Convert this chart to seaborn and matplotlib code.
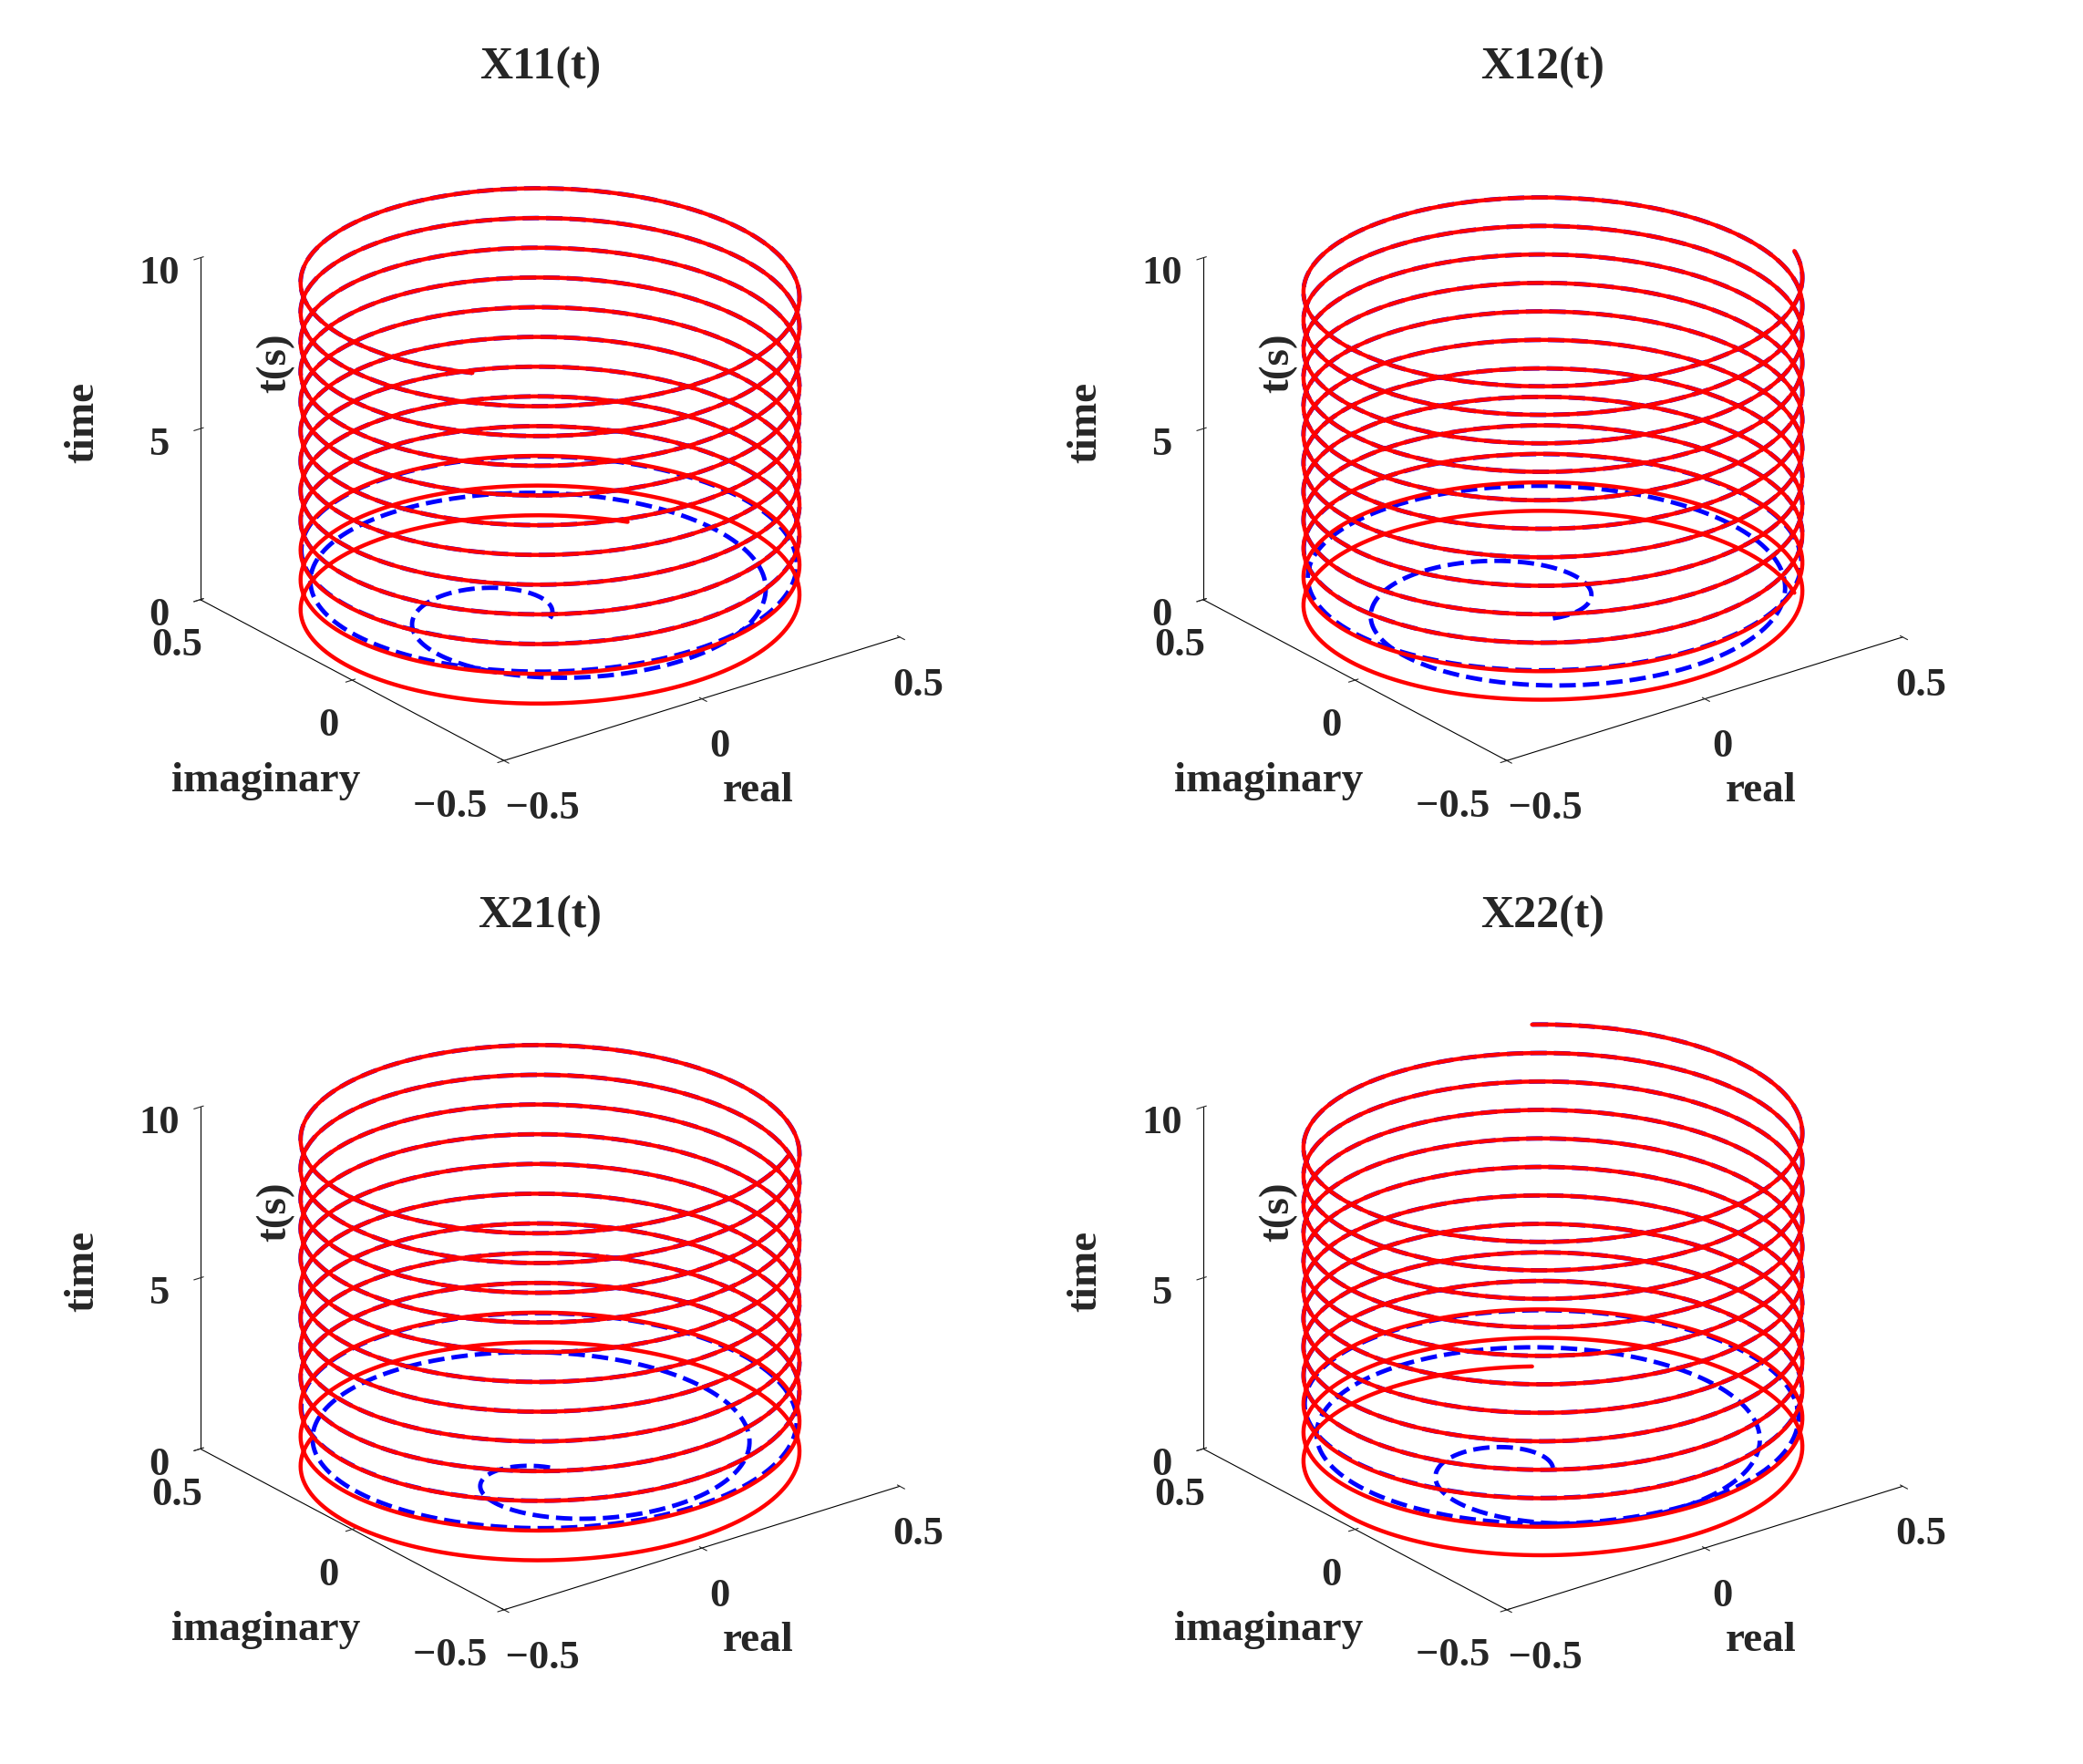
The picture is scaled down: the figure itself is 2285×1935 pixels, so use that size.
import matplotlib
matplotlib.use('Agg')
import matplotlib.pyplot as plt
import numpy as np
import seaborn as sns

# 每个子图的参数：标题、频率(圈/秒)、半径、初相位
titles = ["X11(t)", "X12(t)", "X21(t)", "X22(t)"]
freqs = [1.15, 1.2, 1.15, 1.2]
radii = [0.5, 0.5, 0.5, 0.5]
phases = [0.6, -0.4, 2.2, 1.0]
# 蓝色虚线的瞬态时间常数
taus = [0.35, 0.3, 0.3, 0.35]
t_end = 10.0

sns.set_style("white")
plt.rcParams['font.family'] = ['Liberation Serif', 'DejaVu Serif']
plt.rcParams['font.weight'] = 'bold'

fig = plt.figure(figsize=(22.85, 19.35), dpi=100)
t = np.linspace(0, t_end, 4000)

for i, title in enumerate(titles):
    ax = fig.add_subplot(2, 2, i + 1, projection='3d', proj_type='ortho')
    w = 2 * np.pi * freqs[i]
    re = radii[i] * np.cos(w * t + phases[i])
    im = radii[i] * np.sin(w * t + phases[i])
    env = 1 - np.exp(-t / taus[i])
    ax.plot(re * env, im * env, t, color='blue', ls='--', lw=3.5)
    ax.plot(re, im, t, color='red', lw=3.2)

    ax.set_xlim(-0.5, 0.5)
    ax.set_ylim(-0.5, 0.5)
    ax.set_zlim(0, 10)
    ax.set_xticks([-0.5, 0, 0.5])
    ax.set_yticks([-0.5, 0, 0.5])
    ax.set_zticks([0, 5, 10])
    ax.set_xticklabels(['    \u22120.5', '0', '0.5'])
    ax.set_yticklabels(['\u22120.5      ', '0', '0.5'])
    ax.tick_params(labelsize=32, pad=10)
    ax.yaxis.set_rotate_label(False)
    ax.xaxis.set_rotate_label(False)
    ax.zaxis.set_rotate_label(False)
    ax.set_xlabel('real', fontsize=34, fontweight='bold', labelpad=35)
    ax.set_ylabel('imaginary', fontsize=34, fontweight='bold', labelpad=45)
    ax.set_zlabel('time', fontsize=34, fontweight='bold', labelpad=30, rotation=90)
    ax.text2D(0.115, 0.6, 't(s)', transform=ax.transAxes, rotation=90,
              fontsize=34, fontweight='bold', zorder=10)
    ax.set_title(title, fontsize=36, fontweight='bold')
    ax.grid(False)
    for axis in (ax.xaxis, ax.yaxis, ax.zaxis):
        axis.pane.fill = False
        axis.pane.set_edgecolor('white')
        axis.line.set_color('black')
    ax.view_init(elev=24, azim=-127.5)
    ax.set_box_aspect((1, 1, 0.75), zoom=1.05)

plt.subplots_adjust(left=0.03, right=0.97, top=0.95, bottom=0.05, wspace=0.05, hspace=0.15)
plt.savefig('out.png', dpi=100)
